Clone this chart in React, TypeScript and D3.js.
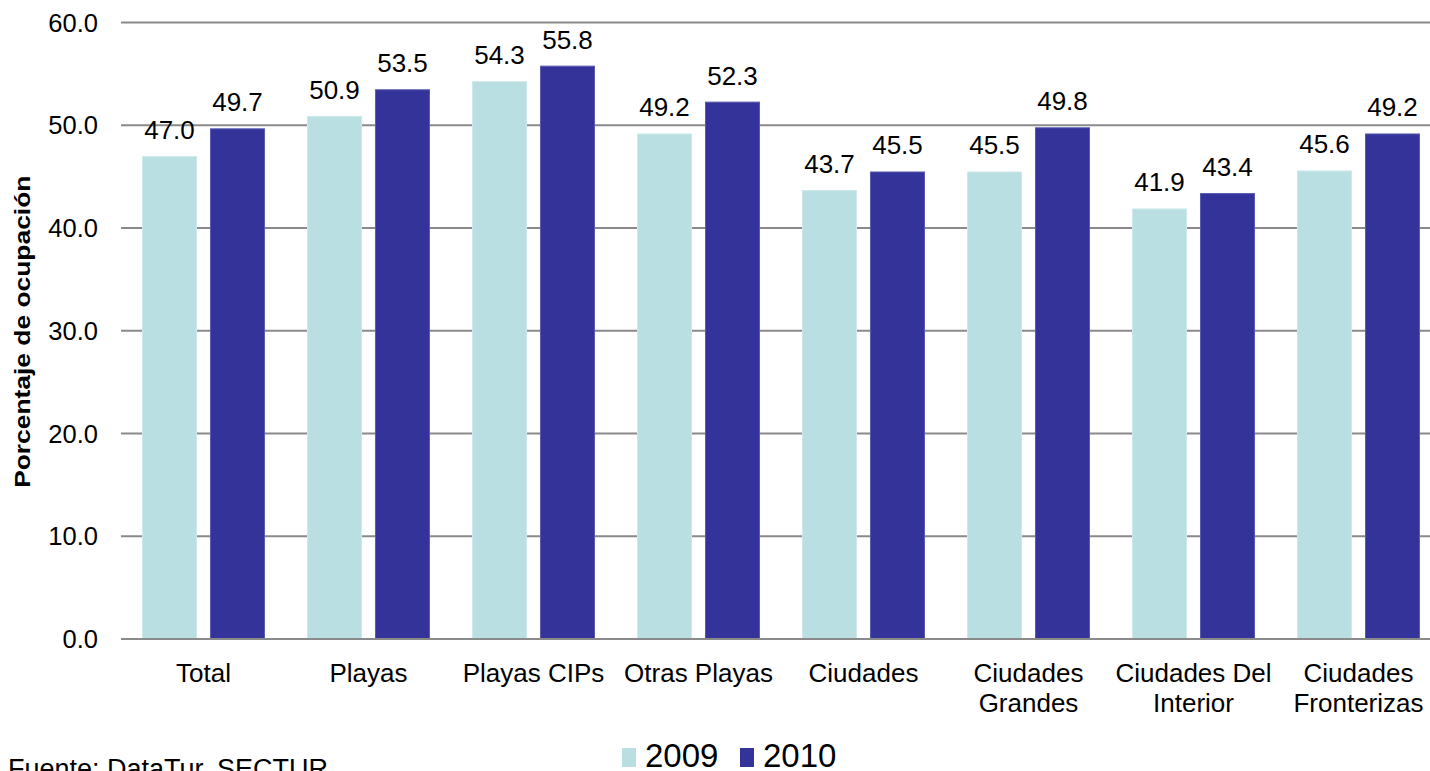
import React from "react"
import * as d3 from "d3"

const categories = [
  ["Total"],
  ["Playas"],
  ["Playas CIPs"],
  ["Otras Playas"],
  ["Ciudades"],
  ["Ciudades", "Grandes"],
  ["Ciudades Del", "Interior"],
  ["Ciudades", "Fronterizas"],
]
const seriesNames = ["2009", "2010"]
const values2009 = [47.0, 50.9, 54.3, 49.2, 43.7, 45.5, 41.9, 45.6]
const values2010 = [49.7, 53.5, 55.8, 52.3, 45.5, 49.8, 43.4, 49.2]
const yTicks = [0, 10, 20, 30, 40, 50, 60]
const colors = ["#b9dfe2", "#333399"]
const edges = ["#cfe9eb", "#5a5ab0"]

const W = 1430
const H = 771
const left = 121
const right = 1441
const top = 22.5
const bottom = 639
const font = "'Liberation Sans', Arial, sans-serif"

export default function App() {
  const keys = categories.map((c) => c.join(" "))
  const x = d3.scaleBand<string>().domain(keys).range([left, right]).padding(0)
  const inner = d3
    .scaleBand<string>()
    .domain(seriesNames)
    .range([21, x.bandwidth() - 21])
    .paddingInner(0.191)
  const y = d3.scaleLinear().domain([0, 60]).range([bottom, top])
  const series = [values2009, values2010]

  return (
    <svg
      width={W}
      height={H}
      style={{ position: "absolute", left: 0, top: 0, background: "#fff" }}
      fontFamily={font}
    >
      {yTicks.map((t) => (
        <g key={t}>
          <line x1={left} x2={W} y1={y(t)} y2={y(t)} stroke="#8a8a8a" strokeWidth={2} />
          <text x={98} y={y(t) + 9} textAnchor="end" fontSize={25.5} fill="#000">
            {t.toFixed(1)}
          </text>
        </g>
      ))}
      {series.map((vals, si) =>
        vals.map((v, i) => {
          const bx = x(keys[i])! + inner(seriesNames[si])!
          return (
            <g key={`${si}-${i}`}>
              <rect
                x={bx + 0.5}
                y={y(v) + 0.5}
                width={inner.bandwidth() - 1}
                height={bottom - y(v) - 0.5}
                fill={colors[si]}
                stroke={edges[si]}
                strokeWidth={1}
              />
              <text
                x={bx + inner.bandwidth() / 2}
                y={y(v) - 17}
                textAnchor="middle"
                fontSize={26}
                fill="#000"
              >
                {v.toFixed(1)}
              </text>
            </g>
          )
        })
      )}
      <line x1={left} x2={W} y1={bottom} y2={bottom} stroke="#8a8a8a" strokeWidth={2} />
      {categories.map((lines, i) => (
        <text
          key={i}
          x={x(keys[i])! + x.bandwidth() / 2}
          y={682}
          textAnchor="middle"
          fontSize={26}
          fill="#000"
        >
          {lines.map((l, j) => (
            <tspan key={j} x={x(keys[i])! + x.bandwidth() / 2} dy={j === 0 ? 0 : 30}>
              {l}
            </tspan>
          ))}
        </text>
      ))}
      <text
        transform={`translate(30,${(top + bottom) / 2 + 1}) rotate(-90) scale(1.2,1)`}
        textAnchor="middle"
        fontSize={22}
        fontWeight="bold"
        fill="#000"
      >
        Porcentaje de ocupación
      </text>
      {seriesNames.map((s, i) => (
        <g key={s} transform={`translate(${622 + i * 118},0)`}>
          <rect x={0} y={748} width={14} height={19} fill={colors[i]} />
          <text x={23} y={767} fontSize={33} fill="#000">
            {s}
          </text>
        </g>
      ))}
      <text x={8} y={778} fontSize={27} fill="#000">
        Fuente: DataTur, SECTUR
      </text>
    </svg>
  )
}
